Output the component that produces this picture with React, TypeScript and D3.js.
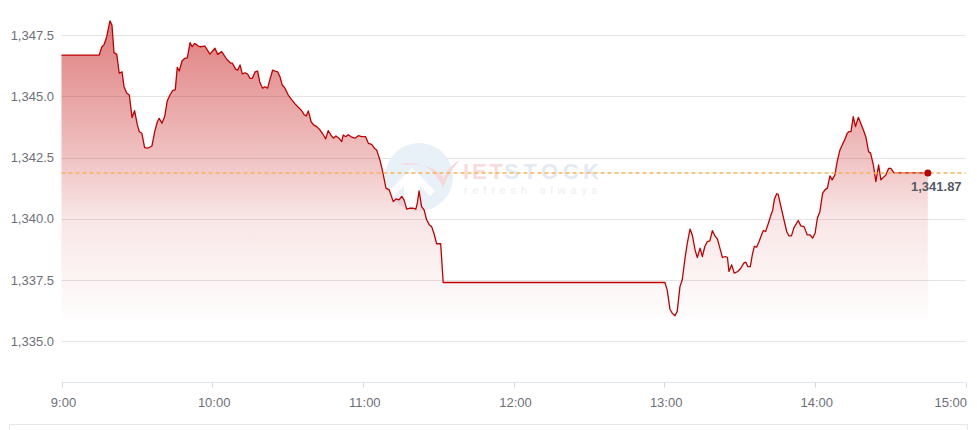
import React from "react";
import * as d3 from "d3";

// minutes after 9:00 and index value
const minutes = [
  0, 15, 16, 17, 18, 19.3, 20.1, 20.9, 22, 23, 24.1, 24.9, 26, 27, 28.1, 29.1, 30.2, 31, 32, 33.1, 34.4, 36,
  37.1, 38.1, 38.9, 40, 41.1, 42.1, 43.2, 44.3, 45.3, 46.1, 46.9, 48, 49.1, 50.1, 51.2, 52, 53, 54.5, 55.2,
  57.1, 59.1, 61.1, 62.2, 63.8, 65.8, 67.4, 68, 69.4, 70.2, 71.1, 72, 73.1, 74.1, 75.1, 76, 77.1, 78.1, 79,
  80.1, 81, 82.1, 83, 84.1, 85, 86.1, 87, 87.9, 89, 90.3, 91.7, 93, 94.3, 95.4, 96.7, 97.5, 98.3, 99.4,
  100.4, 101.6, 102.9, 104.3, 105.2, 106.2, 107.4, 108.3, 109.3, 110.5, 111.6, 112.2, 113.2, 114.2, 115.6,
  116.9, 118.2, 119.5, 121.1, 122.2, 123.5, 124.6, 125.5, 126.8, 127.9, 129.2, 130.5, 132.1, 133.2, 134.4,
  135.5, 136.4, 137.5, 138.8, 140.1, 141.1, 141.7, 142.4, 143.4, 144.4, 145.4, 146.5, 147.4, 148.3, 149.4,
  151, 152, 240.3, 241.2, 242.3, 243.2, 244.3, 245.2, 246.3, 247.2, 248.3, 249.2, 250.3, 251.2, 252.3,
  253.2, 254.3, 255.2, 256.2, 257.2, 258.2, 259.2, 260.2, 261.2, 262.3, 263.2, 264.2, 265.2, 265.8, 266.9,
  267.9, 269.3, 270.6, 271.7, 272.5, 273.3, 274.3, 275.1, 275.9, 276.8, 277.8, 278.5, 279.5, 280.4, 281.5,
  282.4, 283.2, 283.9, 284.8, 285.4, 286.5, 287.7, 288.8, 289.7, 290.7, 291.6, 293.4, 294.4, 295.7, 297,
  298.1, 299.1, 300.1, 301, 302, 303.1, 304, 305, 306, 306.9, 308, 308.9, 310, 310.9, 312, 312.9, 313.7,
  314.4, 315.3, 316.2, 317.3, 318.2, 319.3, 320.3, 321.4, 322.2, 323.3, 324.3, 325.4, 326.3, 327.2, 328.3,
  329.4, 330.3, 331.5, 345,
];

const values = [
  1346.68, 1346.68, 1347.0, 1347.12, 1347.43, 1348.08, 1347.9, 1346.78, 1346.71, 1345.94, 1346.0, 1345.39,
  1345.12, 1345.05, 1344.13, 1344.41, 1343.83, 1343.55, 1343.49, 1342.9, 1342.88, 1342.97, 1343.55, 1343.94,
  1344.1, 1343.9, 1344.17, 1344.81, 1345.05, 1345.24, 1345.26, 1346.18, 1346.03, 1346.44, 1346.55, 1346.57,
  1347.19, 1347.02, 1347.16, 1347.05, 1347.02, 1347.05, 1346.72, 1346.96, 1346.71, 1346.82, 1346.51,
  1346.35, 1346.35, 1346.1, 1346.07, 1346.28, 1345.91, 1345.96, 1345.91, 1345.73, 1345.73, 1346.0, 1346.03,
  1345.56, 1345.33, 1345.39, 1345.33, 1345.69, 1346.07, 1346.03, 1346.0, 1345.8, 1345.46, 1345.33, 1345.05,
  1344.85, 1344.69, 1344.55, 1344.44, 1344.24, 1344.2, 1344.4, 1343.96, 1343.83, 1343.76, 1343.63, 1343.42,
  1343.26, 1343.6, 1343.4, 1343.29, 1343.38, 1343.29, 1343.15, 1343.42, 1343.35, 1343.43, 1343.33, 1343.29,
  1343.39, 1343.35, 1343.35, 1343.08, 1343.04, 1342.88, 1342.81, 1342.4, 1341.93, 1341.25, 1341.18, 1340.7,
  1340.81, 1340.77, 1340.91, 1340.77, 1340.39, 1340.43, 1340.43, 1340.39, 1340.64, 1341.14, 1340.5, 1340.36,
  1339.96, 1339.75, 1339.68, 1339.41, 1338.98, 1338.98, 1337.4, 1337.4, 1337.1, 1336.31, 1336.15, 1336.04,
  1336.22, 1337.24, 1337.51, 1338.39, 1339.0, 1339.58, 1339.34, 1338.73, 1338.42, 1338.8, 1338.46, 1338.87,
  1339.07, 1339.1, 1339.52, 1339.3, 1339.18, 1338.76, 1338.42, 1338.46, 1338.43, 1337.85, 1338.12, 1337.78,
  1337.85, 1337.99, 1338.19, 1338.23, 1338.05, 1338.05, 1338.53, 1338.87, 1338.84, 1339.07, 1339.27, 1339.52,
  1339.48, 1339.82, 1340.12, 1340.34, 1340.8, 1341.02, 1341.0, 1340.5, 1339.96, 1339.48, 1339.3, 1339.3,
  1339.62, 1339.93, 1339.71, 1339.68, 1339.34, 1339.34, 1339.21, 1339.41, 1340.02, 1340.29, 1341.04, 1341.18,
  1341.25, 1341.75, 1341.59, 1341.79, 1342.33, 1342.81, 1343.01, 1343.25, 1343.49, 1343.56, 1343.56, 1344.17,
  1343.76, 1344.14, 1343.92, 1343.63, 1343.35, 1342.74, 1342.68, 1342.2, 1341.52, 1342.2, 1341.59, 1341.68,
  1341.79, 1342.06, 1342.06, 1341.87, 1341.87,
];

const yTicks = [1335, 1337.5, 1340, 1342.5, 1345, 1347.5];
const xTickMinutes = [0, 60, 120, 180, 240, 300, 360];
const xTickLabels = ["9:00", "10:00", "11:00", "12:00", "13:00", "14:00", "15:00"];
const yAxisMin = 1333.33;
const lastValue = 1341.87;

const W = 977;
const H = 430;
const FONT = "'Liberation Sans', Arial, sans-serif";

export default function App() {
  const x = d3.scaleLinear().domain([0, 360]).range([61.5, 965.5]);
  const y = d3.scaleLinear().domain([1335, 1347.5]).range([341.3, 35]);
  const data = minutes.map((m, i) => ({ m, v: values[i] }));
  const vMin = d3.min(values) as number;
  const vMax = d3.max(values) as number;
  const line = d3
    .line<{ m: number; v: number }>()
    .x((d) => x(d.m))
    .y((d) => y(d.v));
  const area = d3
    .area<{ m: number; v: number }>()
    .x((d) => x(d.m))
    .y0(y(vMin) + 2)
    .y1((d) => y(d.v));
  const axisY = Math.round(y(yAxisMin)) + 0.5;
  const last = data[data.length - 1];
  const fmt = d3.format(",.1f");
  const fmt2 = d3.format(",.2f");
  const nTicks = xTickMinutes.length;

  return (
    <svg
      width={W}
      height={H}
      style={{ position: "absolute", left: 0, top: 0, background: "#fff" }}
      fontFamily={FONT}
    >
      <defs>
        <linearGradient
          id="fillGrad"
          gradientUnits="userSpaceOnUse"
          x1="0"
          x2="0"
          y1={y(vMax)}
          y2={y(vMin) + 2}
        >
          <stop offset="0" stopColor="#c00000" stopOpacity={0.5} />
          <stop offset="0.12" stopColor="#c00000" stopOpacity={0.44} />
          <stop offset="0.46" stopColor="#c00000" stopOpacity={0.24} />
          <stop offset="0.66" stopColor="#c00000" stopOpacity={0.1} />
          <stop offset="1" stopColor="#c00000" stopOpacity={0.01} />
        </linearGradient>
      </defs>

      {/* grid lines */}
      {yTicks.map((t) => (
        <line
          key={t}
          x1={x(0)}
          x2={x(360)}
          y1={Math.round(y(t)) + 0.5}
          y2={Math.round(y(t)) + 0.5}
          stroke="#e4e4e4"
          strokeWidth={1}
        />
      ))}
      {yTicks.map((t) => (
        <text
          key={"l" + t}
          x={54}
          y={y(t)}
          textAnchor="end"
          dominantBaseline="central"
          fontSize={13}
          fill="#6e7079"
        >
          {fmt(t)}
        </text>
      ))}

      {/* watermark */}
      <g>
        <circle cx={419} cy={177} r={34} fill="#e8f0f8" />
        <path
          d="M 404 210 L 404 186 L 394 196 L 389 191 L 412 168 L 435 191 L 430 196 L 420 186 L 420 210 Z"
          fill="#ffffff"
        />
        <path
          d="M 400 165 Q 410 160 428 168 Q 438 176 443 188 Q 450 170 460 160 Q 448 166 444 178 Q 432 162 400 165 Z"
          fill="#f7d8d8"
        />
        <text x={463} y={179} fontSize={22} fontWeight="bold" textLength={40} fill="#f8dcdc">
          IET
        </text>
        <text x={504} y={179} fontSize={22} fontWeight="bold" textLength={95} fill="#e2ebf4">
          STOCK
        </text>
        <text x={464} y={194} fontSize={11} textLength={133} fill="#eeeeee">
          refresh always
        </text>
      </g>

      {/* area and line */}
      <path d={area(data) || ""} fill="url(#fillGrad)" />
      <path d={line(data) || ""} fill="none" stroke="#c00000" strokeWidth={1.3} strokeLinejoin="round" />

      {/* reference line at last value */}
      <line
        x1={x(0)}
        x2={x(360)}
        y1={y(lastValue)}
        y2={y(lastValue)}
        stroke="#f9b35c"
        strokeWidth={1.4}
        strokeDasharray="4,3"
      />

      {/* x axis */}
      <line x1={x(0)} x2={x(360)} y1={axisY} y2={axisY} stroke="#e0e6f1" strokeWidth={1} />
      {xTickMinutes.map((m, i) => (
        <g key={m}>
          <line
            x1={Math.round(x(m)) + 0.5}
            x2={Math.round(x(m)) + 0.5}
            y1={axisY}
            y2={axisY + 5}
            stroke="#d0d8ea"
            strokeWidth={1}
          />
          <text
            x={i === nTicks - 1 ? 967 : x(m) + 2}
            y={axisY + 20}
            textAnchor={i === nTicks - 1 ? "end" : "middle"}
            dominantBaseline="central"
            fontSize={13}
            fill="#6e7079"
          >
            {xTickLabels[i]}
          </text>
        </g>
      ))}

      {/* end point */}
      <circle cx={x(last.m)} cy={y(last.v)} r={3.5} fill="#b50000" />
      <text x={911} y={y(last.v) + 14} fontSize={13} fontWeight="bold" fill="#555a66" dominantBaseline="central">
        {fmt2(last.v)}
      </text>

      {/* bottom panel border */}
      <rect x={9.5} y={424.5} width={958} height={30} fill="none" stroke="#e8e8e8" strokeWidth={1} />
    </svg>
  );
}
